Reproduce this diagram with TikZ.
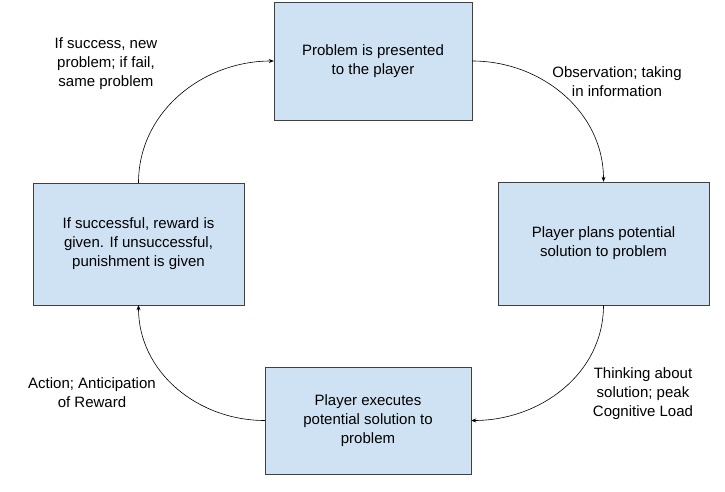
\documentclass[tikz,border=0pt]{standalone}
\usepackage{fontspec}
\setmainfont{Liberation Sans}
\usetikzlibrary{arrows.meta}
\definecolor{boxblue}{RGB}{207,226,243}
\tikzset{
  stage/.style = {draw=black!75, fill=boxblue, align=center, inner sep=0pt, font=\fontsize{15}{19}\selectfont},
  note/.style = {align=center, font=\fontsize{15}{19}\selectfont},
  flow/.style = {-{Stealth[length=5pt,width=4pt]}, line width=0.6pt}
}
\begin{document}
\begin{tikzpicture}[x=1pt,y=1pt]
    \useasboundingbox (0,0) rectangle (725,491);
    \node [stage, minimum width = 198, minimum height = 118] (p) at (373,430) {Problem is presented\\to the player};
    \node [stage, minimum width = 211, minimum height = 123] (s) at (603.5,247.5) {Player plans potential\\solution to problem};
    \node [stage, minimum width = 206, minimum height = 107] (e) at (368,70.5) {Player executes\\potential solution to\\problem};
    \node [stage, minimum width = 211, minimum height = 122] (r) at (138.5,247) {If successful, reward is\\given. If unsuccessful,\\punishment is given};

    \node [note] (a) at (106,427) {If success, new\\problem; if fail,\\same problem};
    \node [note] (b) at (617,409) {Observation; taking\\in information};
    \node [note] (c) at (643,97) {Thinking about\\solution; peak\\Cognitive Load};
    \node [note] (d) at (92,98) {Action; Anticipation\\of Reward};

    \draw [flow] (p.east) to [out=0, in=90] (s.north);
    \draw [flow] (s.south) to [out=-90, in=0] (e.east);
    \draw [flow] (e.west) to [out=180, in=-90] (r.south);
    \draw [flow] (r.north) to [out=90, in=180] (p.west);
\end{tikzpicture}
\end{document}
